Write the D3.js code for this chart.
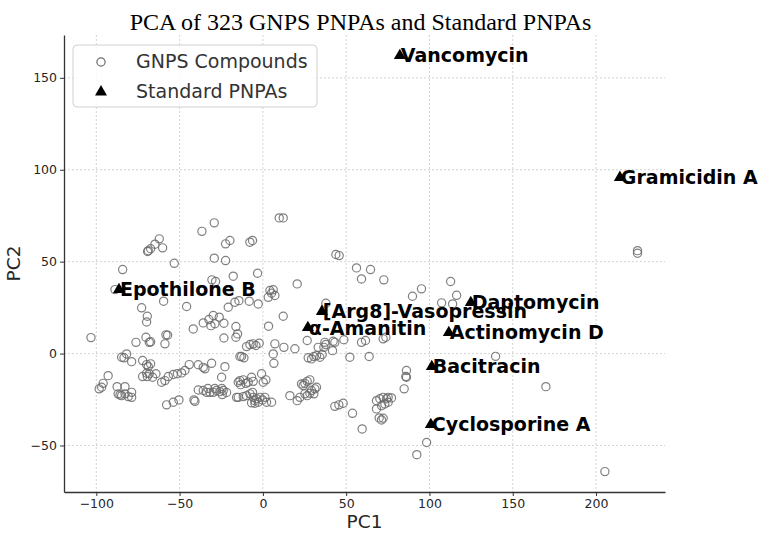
<!DOCTYPE html>
<html>
<head>
<meta charset="utf-8">
<script src="https://cdn.jsdelivr.net/npm/d3@7"></script>
<style>
	body { margin: 0; background: #fff; }
	text { font-family: "DejaVu Sans", sans-serif; }
</style>
</head>
<body>
<div id="chart"></div>
<script>
// GNPS compounds (PC1, PC2)
const gnpsPC1 = [-29.2,-36.6,-62.2,-64.8,-67.4,-68.8,-69.2,-60.2,-22.4,-19.8,-29.2,-22.4,-53.2,-84.2,-17.8,-30.6,-28.4,-88.8,-59.6,-45.8,-72.8,-69.4,-69.8,-16.8,-14.4,-20.8,-41.8,-35.8,-32.4,-29.8,-26.2,-31.2,-28.8,-23.4,-16.2,-15.2,-103.2,-76.2,-70.2,-68.2,-67.4,-58.2,-57.2,-58.8,-23.4,-16.2,
	9.8,12.2,-7.8,-6.2,43.8,45.8,-3.2,20.6,56.2,64.6,59.2,72.6,4.2,6.2,3.2,7.2,5.2,-8.2,-2.8,12.2,37.8,3.4,-9.8,-7.8,-5.8,-4.2,-2.2,7.2,12.6,19.2,26.6,33.2,37.2,42.2,48.6,59.2,61.6,72.2,73.8,
	89.8,95.2,112.7,116.3,107.3,113.9,139.7,86.2,85.8,224.9,224.9,169.9,205.3,92.4,98.3,
	-84.8,-83.4,-81.8,-78.8,-72.2,-69.8,-67.4,-68.8,-92.9,-95.9,-96.8,-98.3,-87.5,-82.8,-86.9,-84.8,-82.8,-80.8,-78.8,-78.8,-85.8,-72.2,-69.8,-68.2,-66.2,-64.2,-69.4,-60.8,-58.8,-56.8,-53.8,-51.4,-48.8,-46.8,-44.2,-38.8,-35.8,-34.8,-30.8,-22.8,-24.8,-57.8,-53.8,-50.4,-41.4,-40.8,
	-38.8,-35.8,-33.8,-31.8,-29.8,-27.8,-25.8,-23.8,-21.8,-33.0,-28.8,-24.6,-24.4,-15.8,-13.8,-13.8,-12.8,-11.4,
	-14.8,-13.4,-11.8,-10.2,-6.8,-8.8,-5.8,-0.8,0.2,1.8,-14.8,-11.8,-9.8,-7.8,-6.2,-5.8,-4.8,-3.8,-2.8,-1.8,-0.2,1.2,2.2,5.2,-6.8,-4.8,
	6.2,6.6,16.2,20.6,22.2,23.2,25.2,26.6,28.2,24.2,25.2,26.6,28.2,29.2,31.2,32.2,30.6,27.2,29.2,30.6,32.2,34.2,35.6,36.6,37.8,41.8,43.2,
	43.2,45.6,48.2,52.2,63.8,53.8,59.6,68.2,70.2,72.2,74.2,75.2,77.2,68.2,71.2,73.2,75.2,69.8,71.2,72.2,86.2,84.8];
const gnpsPC2 = [71.1,66.5,62.4,59.5,57.0,56.0,55.5,57.5,59.7,61.5,51.9,50.6,49.1,45.7,42.1,40.1,39.2,34.8,28.5,25.6,24.9,20.3,17.2,27.9,28.8,25.2,13.4,16.7,18.5,20.7,19.8,15.2,16.2,16.5,14.7,10.7,8.7,6.1,8.9,6.1,6.4,10.2,10.0,5.3,8.5,8.9,
	73.8,73.8,60.6,61.5,53.9,53.3,43.7,37.9,46.6,45.7,40.6,40.1,34.3,34.7,30.6,31.6,32.8,28.5,27.0,20.3,27.4,14.9,3.8,4.9,5.3,4.4,5.6,5.3,3.4,2.6,7.1,3.4,6.1,6.7,7.5,6.1,7.1,8.0,8.9,
	31.2,35.2,39.2,31.7,27.6,27.0,-1.5,-9.2,-12.5,56.0,54.6,-18.0,-64.2,-55.0,-48.4,
	-2.0,-2.3,-0.2,-4.4,-3.8,-6.0,-5.6,-7.1,-12.0,-16.2,-18.3,-19.2,-18.0,-18.0,-21.9,-22.9,-21.9,-23.4,-21.1,-23.8,-22.5,-12.5,-10.7,-11.0,-12.9,-11.0,-12.5,-15.6,-14.7,-12.5,-11.4,-11.0,-10.5,-9.2,-6.0,-6.1,-7.5,-8.3,-5.3,-7.1,-12.9,-27.9,-26.5,-25.2,-25.2,-26.0,
	-19.8,-20.1,-21.1,-21.1,-21.1,-20.1,-20.7,-20.1,-21.2,-19.0,-19.0,-19.0,-22.3,-23.8,-14.7,-1.6,-1.6,-2.3,
	-15.6,-16.9,-14.3,-16.2,-12.9,-15.6,-15.1,-11.0,-15.6,-14.3,-23.8,-23.4,-22.9,-21.9,-21.1,-23.8,-25.6,-24.6,-26.5,-23.8,-25.2,-23.8,-26.5,-26.5,-26.8,-27.0,
	-0.2,-5.3,-22.9,-25.6,-23.8,-16.5,-16.2,-15.1,-14.3,-17.4,-21.9,-22.9,-21.6,-20.1,-19.2,-18.3,-21.9,-2.3,-2.9,-1.6,-1.1,-2.0,-0.5,3.4,4.9,1.6,6.1,
	-28.7,-27.9,-27.0,-2.0,-1.6,-32.5,-41.0,-25.6,-24.6,-23.8,-24.6,-23.8,-24.1,-30.1,-28.3,-27.4,-26.5,-35.0,-36.1,-35.2,-12.9,-19.2];

// standard PNPAs
const stdNames = ["Vancomycin", "Gramicidin A", "Epothilone B", "[Arg8]-Vasopressin", "α-Amanitin",
	"Daptomycin", "Actinomycin D", "Bacitracin", "Cyclosporine A"];
const stdPC1 = [82.2, 214.3, -86.4, 35.4, 27.0, 124.8, 111.6, 101.4, 100.8];
const stdPC2 = [162.1, 95.8, 34.8, 22.9, 14.1, 27.7, 11.4, -7.1, -38.6];

const xTicks = [-100, -50, 0, 50, 100, 150, 200];
const yTicks = [-50, 0, 50, 100, 150];

const W = 771, H = 543;
const margin = {top: 35, right: 106, bottom: 51, left: 64};
const width = W - margin.left - margin.right;
const height = H - margin.top - margin.bottom;

const svg = d3.select("#chart").append("svg")
	.attr("width", W)
	.attr("height", H);

const g = svg.append("g")
	.attr("transform", `translate(${margin.left},${margin.top})`);

const x = d3.scaleLinear().domain([-119.4, 241.4]).range([0, width]);
const y = d3.scaleLinear().domain([-75.3, 173.3]).range([height, 0]);

// grid
g.append("g").selectAll("line")
	.data(xTicks)
	.enter().append("line")
	.attr("x1", d => x(d)).attr("x2", d => x(d))
	.attr("y1", 0).attr("y2", height)
	.attr("stroke", "#c8c8c8").attr("stroke-width", 0.8)
	.attr("stroke-dasharray", "2,2");
g.append("g").selectAll("line")
	.data(yTicks)
	.enter().append("line")
	.attr("x1", 0).attr("x2", width)
	.attr("y1", d => y(d)).attr("y2", d => y(d))
	.attr("stroke", "#c8c8c8").attr("stroke-width", 0.8)
	.attr("stroke-dasharray", "2,2");

// axes (left and bottom only)
const xAxis = g.append("g")
	.attr("transform", `translate(0,${height})`)
	.call(d3.axisBottom(x).tickValues(xTicks).tickSize(4).tickSizeOuter(0).tickFormat(d3.format("d")));
const yAxis = g.append("g")
	.call(d3.axisLeft(y).tickValues(yTicks).tickSize(4).tickSizeOuter(0).tickFormat(d3.format("d")));

[xAxis, yAxis].forEach(a => {
	a.select(".domain").attr("stroke", "#333").attr("stroke-width", 1.3);
	a.selectAll(".tick line").attr("stroke", "#333");
	a.selectAll(".tick text")
		.attr("fill", "#262626")
		.style("font-size", "12.5px")
		.style("font-family", "DejaVu Sans, sans-serif");
});
// matplotlib uses a real minus sign
[xAxis, yAxis].forEach(a => a.selectAll(".tick text").text(d => d < 0 ? "\u2212" + Math.abs(d) : d));

// GNPS compounds
const pts = d3.range(gnpsPC1.length);
g.append("g").selectAll("circle")
	.data(pts)
	.enter().append("circle")
	.attr("cx", i => x(gnpsPC1[i]))
	.attr("cy", i => y(gnpsPC2[i]))
	.attr("r", 4.1)
	.attr("fill", "none")
	.attr("stroke", "#6a6a6a")
	.attr("stroke-opacity", 0.85)
	.attr("stroke-width", 1.2);

// standard PNPAs
const tri = d3.symbol().type(d3.symbolTriangle).size(62);
const std = g.append("g").selectAll("g")
	.data(stdNames.map((n, i) => i))
	.enter().append("g")
	.attr("transform", i => `translate(${x(stdPC1[i])},${y(stdPC2[i])})`);
std.append("path").attr("d", tri).attr("fill", "#000");
std.append("text")
	.attr("x", 1)
	.attr("dy", "0.36em")
	.style("font-size", "19px")
	.style("font-weight", "bold")
	.attr("fill", "#000")
	.text(i => stdNames[i]);

// axis labels
g.append("text")
	.attr("x", width / 2).attr("y", height + 36)
	.attr("text-anchor", "middle")
	.style("font-size", "18.5px")
	.attr("fill", "#262626")
	.text("PC1");
g.append("text")
	.attr("transform", `translate(${-44},${height / 2}) rotate(-90)`)
	.attr("text-anchor", "middle")
	.style("font-size", "18.5px")
	.attr("fill", "#262626")
	.text("PC2");

// title
svg.append("text")
	.attr("x", margin.left + width / 2 - 4).attr("y", 30)
	.attr("text-anchor", "middle")
	.style("font-family", "Liberation Serif, serif")
	.style("font-size", "24px")
	.attr("fill", "#000")
	.text("PCA of 323 GNPS PNPAs and Standard PNPAs");

// legend
const leg = svg.append("g").attr("transform", "translate(73,45)");
leg.append("rect")
	.attr("width", 244).attr("height", 62).attr("rx", 4)
	.attr("fill", "#fff").attr("fill-opacity", 0.85)
	.attr("stroke", "#d0d0d0");
leg.append("circle")
	.attr("cx", 28).attr("cy", 17).attr("r", 4.1)
	.attr("fill", "none").attr("stroke", "#6a6a6a").attr("stroke-width", 1.2);
leg.append("path")
	.attr("d", tri)
	.attr("transform", "translate(28,47)")
	.attr("fill", "#000");
leg.append("text").attr("x", 63).attr("y", 23)
	.style("font-size", "19px").attr("fill", "#333").text("GNPS Compounds");
leg.append("text").attr("x", 63).attr("y", 53)
	.style("font-size", "19px").attr("fill", "#333").text("Standard PNPAs");
</script>
</body>
</html>
